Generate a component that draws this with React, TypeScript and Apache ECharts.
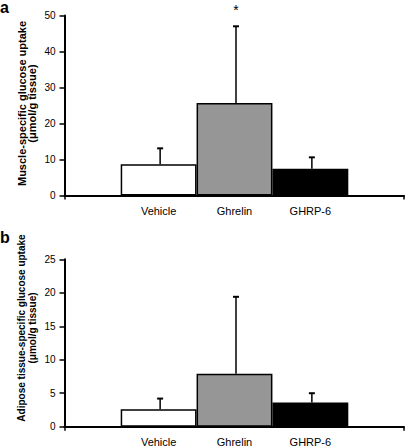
import React, { useEffect, useRef } from "react";
import * as echarts from "echarts";

const groups = ["Vehicle", "Ghrelin", "GHRP-6"];
const barColors = ["#ffffff", "#969696", "#000000"];
const muscleMean = [8.7, 25.7, 7.4];
const muscleErrTop = [13.1, 47.0, 10.6];
const muscleSig = ["", "*", ""];
const adiposeMean = [2.6, 7.9, 3.6];
const adiposeErrTop = [4.2, 19.4, 5.0];
const adiposeSig = ["", "", ""];
const muscleTicks = { min: 0, max: 50, interval: 10 };
const adiposeTicks = { min: 0, max: 25, interval: 5 };

const FONT = "'Liberation Sans', Arial, sans-serif";

export default function App() {
  const ref = useRef<HTMLDivElement>(null);
  useEffect(() => {
    document.body.style.margin = "0";
    const chart = echarts.init(ref.current!, null, { renderer: "svg" });

    const panels = [
      { top: 15.5, height: 180, ticks: muscleTicks, mean: muscleMean, err: muscleErrTop, sig: muscleSig,
        name: "Muscle-specific glucose uptake\n(μmol/g tissue)", nameSize: 11, nameGap: 27, namePad: [0, 0, 0, 4] },
      { top: 259.3, height: 167.4, ticks: adiposeTicks, mean: adiposeMean, err: adiposeErrTop, sig: adiposeSig,
        name: "Adipose tissue-specific glucose uptake\n(μmol/g tissue)", nameSize: 10, nameGap: 27, namePad: [0, 0, 0, 30] },
    ];

    const grid: any[] = [];
    const xAxis: any[] = [];
    const yAxis: any[] = [];
    const series: any[] = [];

    panels.forEach((p, i) => {
      const gA = i * 2;
      const gB = i * 2 + 1;
      grid.push({ left: 64.5, width: 339.5, top: p.top, height: p.height, outerBoundsMode: "none", containLabel: false });
      grid.push({ left: 120.7, width: 227.6, top: p.top, height: p.height, outerBoundsMode: "none", containLabel: false });
      xAxis.push({
        type: "value", gridIndex: gA, min: 0, max: 1, interval: 1,
        axisLine: { show: true, lineStyle: { color: "#000", width: 2 } },
        axisTick: { show: true, length: 4, lineStyle: { color: "#000", width: 1.5 } },
        axisLabel: { show: false }, splitLine: { show: false },
      });
      xAxis.push({
        type: "category", gridIndex: gB, data: groups,
        axisLine: { show: false }, axisTick: { show: false },
        axisLabel: { color: "#000", fontSize: 11, fontFamily: FONT, margin: 10 },
      });
      yAxis.push({
        type: "value", gridIndex: gA, ...p.ticks,
        axisLine: { show: true, lineStyle: { color: "#000", width: 2 } },
        axisTick: { show: true, length: 5, lineStyle: { color: "#000", width: 1.5 } },
        axisLabel: { color: "#000", fontSize: 10, fontFamily: FONT, margin: 9 },
        splitLine: { show: false },
        name: p.name, nameLocation: "middle", nameRotate: 90, nameGap: p.nameGap,
        nameMoveOverlap: false,
        nameTextStyle: { color: "#000", fontSize: p.nameSize, fontWeight: "bold", fontFamily: FONT, lineHeight: 10.5, padding: p.namePad },
      });
      yAxis.push({
        type: "value", gridIndex: gB, ...p.ticks, show: false,
      });
      series.push({
        type: "bar", xAxisIndex: gB, yAxisIndex: gB, barWidth: "100%", barGap: "0%",
        data: p.mean.map((v, k) => ({
          value: v,
          itemStyle: { color: barColors[k], borderColor: "#000", borderWidth: 1.5 },
        })),
        z: 2,
      });
      series.push({
        type: "custom", xAxisIndex: gB, yAxisIndex: gB, z: 1,
        data: p.mean.map((v, k) => [k, v, p.err[k]]),
        renderItem: (params: any, api: any) => {
          const k = api.value(0);
          const base = api.coord([k, api.value(1)]);
          const top = api.coord([k, api.value(2)]);
          const x = base[0] + 1.5;
          const children: any[] = [
            { type: "line", shape: { x1: x, y1: base[1], x2: x, y2: top[1] }, style: { stroke: "#000", lineWidth: 1.5 } },
            { type: "line", shape: { x1: x - 3, y1: top[1], x2: x + 3, y2: top[1] }, style: { stroke: "#000", lineWidth: 2 } },
          ];
          const s = p.sig[params.dataIndex];
          if (s) {
            children.push({
              type: "text",
              style: { text: s, x: x, y: top[1] - 23, fill: "#000", fontSize: 14, fontFamily: FONT, align: "center", verticalAlign: "top" },
            });
          }
          return { type: "group", children };
        },
      });
    });

    chart.setOption({
      animation: false,
      grid, xAxis, yAxis, series,
      graphic: [
        { type: "text", left: 0, top: -1, style: { text: "a", fill: "#000", font: `bold 16px ${FONT}` } },
        { type: "text", left: 0, top: 229, style: { text: "b", fill: "#000", font: `bold 16px ${FONT}` } },
      ],
    });
    return () => chart.dispose();
  }, []);
  return <div ref={ref} style={{ width: 405, height: 447 }} />;
}
